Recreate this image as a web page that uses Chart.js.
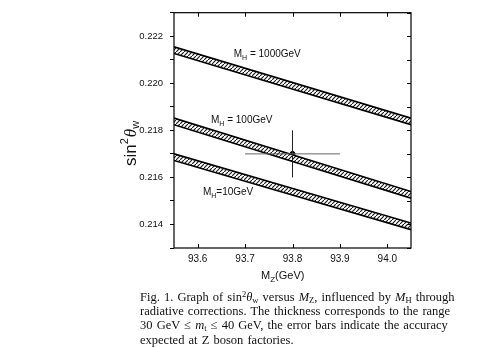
<!DOCTYPE html>
<html>
<head>
<meta charset="utf-8">
<script src="https://cdn.jsdelivr.net/npm/chart.js@4.4.1/dist/chart.umd.min.js"></script>
<style>
html, body { margin: 0; padding: 0; background: #fff; }
#wrap { position: relative; width: 491px; height: 347px; overflow: hidden; }
#chart { position: absolute; left: 0; top: 0; }
#caption {
    position: absolute; left: 140px; top: 290px;
    font-family: 'Liberation Serif', serif; font-size: 12.5px; line-height: 14.2px;
    word-spacing: 1px; color: #111; white-space: nowrap;
}
#caption sub { font-size: 8.5px; vertical-align: -2px; line-height: 0; }
#caption sup { font-size: 8.5px; vertical-align: 4px; line-height: 0; }
</style>
</head>
<body>
<div id="wrap">
<canvas id="chart" width="491" height="347"></canvas>
<div id="caption">
Fig. 1. Graph of sin<sup>2</sup><i>θ</i><sub>w</sub> versus <i>M</i><sub>Z</sub>, influenced by <i>M</i><sub>H</sub> through<br>
radiative corrections. The thickness corresponds to the range<br>
30 GeV ≤ <i>m</i><sub>t</sub> ≤ 40 GeV, the error bars indicate the accuracy<br>
expected at Z boson factories.
</div>
</div>
<script>
// sin^2 theta_w vs M_Z chart

// axis ticks
const xTicks = [93.6, 93.7, 93.8, 93.9, 94.0];
const yTicks = [0.213, 0.214, 0.215, 0.216, 0.217, 0.218, 0.219, 0.220, 0.221, 0.222, 0.223];
const yTickLabels = ['0.214', '0.216', '0.218', '0.220', '0.222'];

// bands (upper / lower edge) at the two ends of the M_Z range
const bandX = [93.55, 94.05];
const mh1000Hi = [0.22155, 0.21852];
const mh1000Lo = [0.22127, 0.21824];
const mh100Hi = [0.21852, 0.21540];
const mh100Lo = [0.21824, 0.21512];
const mh10Hi = [0.21700, 0.21406];
const mh10Lo = [0.21672, 0.21378];

// measurement with error bars
const pointX = [93.8];
const pointY = [0.217];
const errX = [0.1];
const errY = [0.001];

// band labels: [x, y, text after subscript]
const bandLabels = [
    [93.676, 0.22112, ' = 1000GeV'],
    [93.628, 0.21830, ' = 100GeV'],
    [93.611, 0.21526, '=10GeV']
];

function toXY(xs, ys) {
    return xs.map((x, i) => ({ x: x, y: ys[i] }));
}

function makeHatch(ctx) {
    const c = document.createElement('canvas');
    c.width = 4; c.height = 4;
    const g = c.getContext('2d');
    g.fillStyle = '#fff';
    g.fillRect(0, 0, 4, 4);
    g.strokeStyle = '#222';
    g.lineWidth = 1.2;
    g.beginPath();
    g.moveTo(0, 4); g.lineTo(4, 0);
    g.stroke();
    return ctx.createPattern(c, 'repeat');
}

function bandSets(hi, lo, hatch) {
    return [{
        data: toXY(bandX, hi),
        borderColor: '#000', borderWidth: 1.6,
        pointRadius: 0, fill: false, tension: 0
    }, {
        data: toXY(bandX, lo),
        borderColor: '#000', borderWidth: 1.6,
        pointRadius: 0, fill: '-1', backgroundColor: hatch, tension: 0
    }];
}

// frame, inward ticks, error bars and text
const decorations = {
    id: 'decorations',
    afterDatasetsDraw(chart) {
        const ctx = chart.ctx;
        const a = chart.chartArea;
        const xs = chart.scales.x, ys = chart.scales.y;
        ctx.save();
        ctx.strokeStyle = '#000';
        ctx.lineWidth = 1.2;
        ctx.strokeRect(a.left, a.top, a.right - a.left, a.bottom - a.top);

        ctx.lineWidth = 1;
        ctx.beginPath();
        xTicks.forEach(v => {
            const px = Math.round(xs.getPixelForValue(v)) + 0.5;
            ctx.moveTo(px, a.bottom); ctx.lineTo(px, a.bottom - 4);
            ctx.moveTo(px, a.top); ctx.lineTo(px, a.top + 4);
        });
        yTicks.forEach(v => {
            const py = Math.round(ys.getPixelForValue(v)) + 0.5;
            ctx.moveTo(a.right, py); ctx.lineTo(a.right - 4, py);
        });
        ctx.stroke();

        // error bars
        pointX.forEach((x, i) => {
            const px = xs.getPixelForValue(x), py = ys.getPixelForValue(pointY[i]);
            ctx.strokeStyle = '#222';
            ctx.beginPath();
            ctx.moveTo(px, ys.getPixelForValue(pointY[i] - errY[i]));
            ctx.lineTo(px, ys.getPixelForValue(pointY[i] + errY[i]));
            ctx.stroke();
            ctx.strokeStyle = '#666';
            ctx.beginPath();
            ctx.moveTo(xs.getPixelForValue(x - errX[i]), py);
            ctx.lineTo(xs.getPixelForValue(x + errX[i]), py);
            ctx.stroke();
        });

        // band labels
        ctx.fillStyle = '#111';
        ctx.textBaseline = 'alphabetic';
        bandLabels.forEach(l => {
            let px = xs.getPixelForValue(l[0]);
            const py = ys.getPixelForValue(l[1]);
            ctx.font = '10px "Liberation Sans"';
            ctx.fillText('M', px, py);
            px += ctx.measureText('M').width;
            ctx.font = '7px "Liberation Sans"';
            ctx.fillText('H', px, py + 3);
            px += ctx.measureText('H').width;
            ctx.font = '10px "Liberation Sans"';
            ctx.fillText(l[2], px, py);
        });

        // x title
        ctx.font = '11px "Liberation Sans"';
        let tx = 261, ty = 279;
        ctx.fillText('M', tx, ty);
        tx += ctx.measureText('M').width;
        ctx.font = '8px "Liberation Sans"';
        ctx.fillText('Z', tx, ty + 3);
        tx += ctx.measureText('Z').width;
        ctx.font = '11px "Liberation Sans"';
        ctx.fillText('(GeV)', tx, ty);

        // y title, rotated
        ctx.translate(136, 166);
        ctx.rotate(-Math.PI / 2);
        let yx = 0;
        ctx.font = '17px "Liberation Sans"';
        ctx.fillText('sin', yx, 0);
        yx += ctx.measureText('sin').width;
        ctx.font = '11px "Liberation Sans"';
        ctx.fillText('2', yx, -8);
        yx += ctx.measureText('2').width + 1;
        ctx.font = 'italic 17px "Liberation Serif"';
        ctx.fillText('θ', yx, 0);
        yx += ctx.measureText('θ').width;
        ctx.font = '11px "Liberation Sans"';
        ctx.fillText('w', yx, 3);
        ctx.restore();
    }
};

document.addEventListener('DOMContentLoaded', function() {
    const canvas = document.getElementById('chart');
    const hatch = makeHatch(canvas.getContext('2d'));

    const datasets = []
        .concat(bandSets(mh1000Hi, mh1000Lo, hatch))
        .concat(bandSets(mh100Hi, mh100Lo, hatch))
        .concat(bandSets(mh10Hi, mh10Lo, hatch));
    datasets.push({
        data: toXY(pointX, pointY),
        showLine: false,
        pointRadius: 2.5,
        pointBackgroundColor: '#000',
        pointBorderColor: '#000'
    });

    new Chart(canvas, {
        type: 'line',
        data: { datasets: datasets },
        options: {
            responsive: false,
            animation: false,
            events: [],
            layout: { padding: { left: 0, right: 80, top: 10, bottom: 79 } },
            plugins: { legend: { display: false }, tooltip: { enabled: false } },
            scales: {
                x: {
                    type: 'linear', min: 93.55, max: 94.05,
                    afterBuildTicks: s => { s.ticks = xTicks.map(v => ({ value: v })); },
                    afterFit: s => { s.height = 20; },
                    grid: { display: false, drawTicks: false },
                    border: { display: false },
                    ticks: {
                        padding: 5, color: '#111',
                        font: { family: 'Liberation Sans', size: 10 },
                        callback: v => v.toFixed(1)
                    }
                },
                y: {
                    type: 'linear', min: 0.213, max: 0.223,
                    afterBuildTicks: s => { s.ticks = yTicks.map(v => ({ value: v })); },
                    afterFit: s => { s.width = 174; },
                    grid: { display: true, drawOnChartArea: false, drawTicks: true, tickLength: 4, color: '#000' },
                    border: { display: false },
                    ticks: {
                        padding: 7, color: '#111', autoSkip: false,
                        font: { family: 'Liberation Sans', size: 9.5 },
                        callback: v => {
                            const s = v.toFixed(3);
                            return yTickLabels.includes(s) ? s : '';
                        }
                    }
                }
            }
        },
        plugins: [decorations]
    });
});
</script>
</body>
</html>
